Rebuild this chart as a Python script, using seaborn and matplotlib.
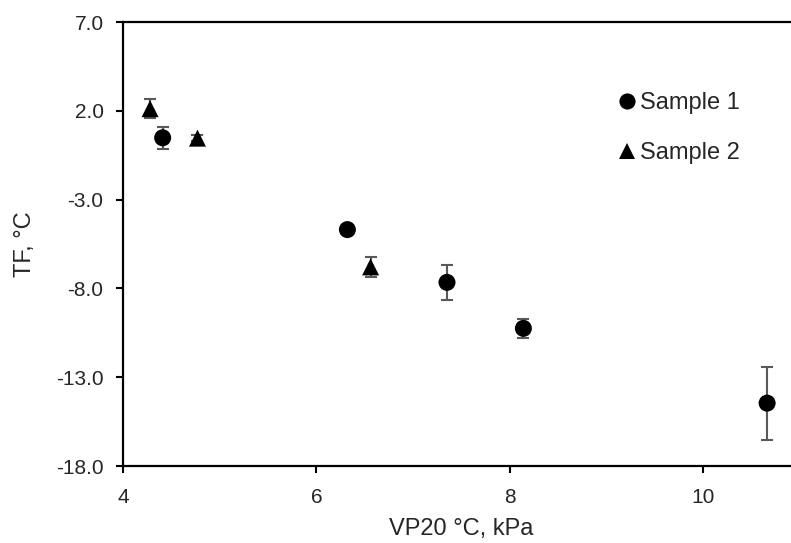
import seaborn as sns
import matplotlib.pyplot as plt
import pandas as pd

# data
s1_vp = [4.41, 6.32, 7.35, 8.14, 10.66]
s1_tf = [0.48, -4.69, -7.66, -10.25, -14.46]
s1_err = [0.62, 0.15, 1.0, 0.53, 2.05]

s2_vp = [4.28, 4.77, 6.56]
s2_tf = [2.12, 0.46, -6.79]
s2_err = [0.53, 0.15, 0.56]

samples = ['Sample 1', 'Sample 2']

df = pd.DataFrame({
    'vp': s1_vp + s2_vp,
    'tf': s1_tf + s2_tf,
    'err': s1_err + s2_err,
    'sample': [samples[0]] * len(s1_vp) + [samples[1]] * len(s2_vp),
})

sns.set_style('ticks')
plt.rcParams['font.family'] = ['Liberation Sans', 'DejaVu Sans']

fig = plt.figure(figsize=(7.91, 5.43), dpi=100)
# axes run slightly past the right edge, as in the original
ax = fig.add_axes([123 / 791, 77 / 543, 677 / 791, 444 / 543])

ax.errorbar(df['vp'], df['tf'], yerr=df['err'], fmt='none',
            ecolor='#595959', elinewidth=1.5, capsize=4.2, capthick=1.5, zorder=2)

sns.scatterplot(data=df, x='vp', y='tf', style='sample', markers={'Sample 1': 'o', 'Sample 2': '^'},
                color='black', s=150, edgecolor='black', linewidth=0, ax=ax, zorder=3)

ax.set_xlim(4, 11)
ax.set_ylim(-18, 7)
ax.set_xticks([4, 6, 8, 10])
ax.set_yticks([-18, -13, -8, -3, 2, 7])
ax.set_yticklabels([f'{v:.1f}' for v in [-18, -13, -8, -3, 2, 7]])
ax.tick_params(labelsize=15, width=1.5, length=5, color='black', direction='out')
ax.tick_params(axis='x', pad=11)
ax.tick_params(axis='y', pad=9)
for sp in ax.spines.values():
    sp.set_linewidth(1.6)
    sp.set_color('black')

ax.set_xlabel('VP20 °C, kPa', fontsize=17, labelpad=8)
ax.set_ylabel('TF, °C', fontsize=17, labelpad=14)

ax.legend(loc='upper left', bbox_to_anchor=(606 / 791, 1 - 80 / 543), bbox_transform=fig.transFigure,
          frameon=False, fontsize=17, handlelength=0.8, handletextpad=0.12, labelspacing=1.2,
          borderpad=0, markerscale=0.95)

fig.savefig('out.png', dpi=100)
